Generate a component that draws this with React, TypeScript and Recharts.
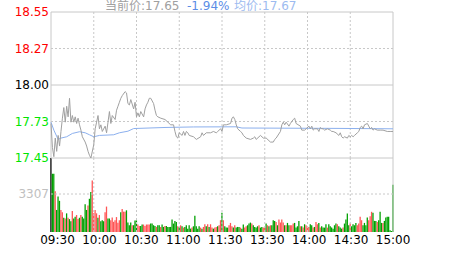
import React from 'react';
import { LineChart, Line, ComposedChart, Bar, Cell, XAxis, YAxis, ReferenceLine } from 'recharts';

const FONT = '"DejaVu Sans", "Noto Sans CJK SC", sans-serif';
const RED = '#ff0000';
const GREEN = '#00e600';
const GRID = '#c8c8c8';

// Header
const currentPrice = '17.65';
const changePct = '-1.94%';
const avgPrice = '17.67';

// Axis ticks / labels
const timeTicks = [0, 30, 60, 90, 120, 150, 180, 210, 240];
const timeLabels = ['09:30', '10:00', '10:30', '11:00', '11:30', '13:30', '14:00', '14:30', '15:00'];
const priceTicks = [17.45, 17.725, 18.0, 18.275, 18.55];
const priceLabels = ['17.45', '17.73', '18.00', '18.27', '18.55'];
const priceLabelColors = [GREEN, GREEN, '#000000', RED, RED];
const pctTicks = [-3.06, -1.53, 0, 1.53, 3.06];
const pctLabels = ['-3.06%', '-1.53%', '0.00%', '+1.53%', '+3.06%'];
const volTicks = [3307];
const volLabels = ['3307'];

// Price line (minute index from 09:30, price)
const priceMin = [0, 1, 2, 3, 4, 5, 6, 7, 8, 9, 10, 11, 12, 13, 14, 15, 16, 17, 18, 19, 20, 21, 22, 24, 25, 26, 27, 28, 30, 31, 32, 33, 34, 35, 36, 38, 39, 40, 41, 42, 43, 45, 46, 47, 48, 49, 50, 52, 53, 54, 55, 56, 58, 59, 60, 61, 62, 63, 65, 66, 67, 68, 69, 70, 72, 73, 74, 75, 77, 80, 82, 84, 86, 87, 88, 89, 90, 92, 93, 94, 95, 96, 97, 100, 102, 105, 106, 107, 109, 112, 114, 116, 117, 119, 120, 121, 123, 126, 127, 128, 129, 130, 131, 133, 134, 135, 137, 140, 142, 143, 144, 147, 149, 151, 154, 156, 157, 158, 161, 162, 163, 164, 165, 167, 168, 170, 171, 172, 175, 176, 178, 179, 181, 182, 183, 184, 185, 187, 188, 189, 190, 191, 192, 194, 196, 197, 198, 200, 202, 203, 204, 205, 206, 208, 209, 210, 211, 212, 213, 215, 216, 217, 218, 219, 220, 222, 223, 224, 225, 226, 227, 229, 231, 233, 236, 238, 240];
const priceVal = [17.71, 17.53, 17.46, 17.60, 17.50, 17.62, 17.54, 17.65, 17.75, 17.83, 17.72, 17.84, 17.76, 17.90, 17.72, 17.77, 17.72, 17.76, 17.71, 17.75, 17.70, 17.66, 17.61, 17.57, 17.54, 17.50, 17.47, 17.45, 17.55, 17.67, 17.72, 17.77, 17.67, 17.70, 17.65, 17.69, 17.64, 17.72, 17.80, 17.71, 17.77, 17.74, 17.81, 17.84, 17.87, 17.90, 17.92, 17.95, 17.94, 17.86, 17.85, 17.89, 17.82, 17.87, 17.76, 17.79, 17.76, 17.80, 17.76, 17.82, 17.85, 17.87, 17.90, 17.90, 17.86, 17.81, 17.77, 17.76, 17.75, 17.74, 17.72, 17.70, 17.70, 17.65, 17.61, 17.60, 17.64, 17.62, 17.65, 17.62, 17.65, 17.64, 17.62, 17.61, 17.59, 17.61, 17.64, 17.62, 17.64, 17.64, 17.65, 17.64, 17.65, 17.67, 17.65, 17.70, 17.70, 17.71, 17.75, 17.76, 17.74, 17.70, 17.67, 17.65, 17.64, 17.62, 17.60, 17.59, 17.60, 17.61, 17.59, 17.62, 17.60, 17.60, 17.57, 17.57, 17.59, 17.60, 17.65, 17.70, 17.72, 17.70, 17.72, 17.69, 17.71, 17.74, 17.75, 17.71, 17.69, 17.66, 17.66, 17.67, 17.69, 17.67, 17.69, 17.66, 17.67, 17.67, 17.65, 17.68, 17.67, 17.67, 17.66, 17.67, 17.66, 17.65, 17.65, 17.64, 17.62, 17.64, 17.61, 17.60, 17.61, 17.60, 17.62, 17.61, 17.62, 17.61, 17.62, 17.64, 17.65, 17.68, 17.69, 17.67, 17.70, 17.71, 17.69, 17.67, 17.68, 17.66, 17.67, 17.66, 17.66, 17.66, 17.65, 17.65, 17.65];

// Average price line
const avgMin = [0, 2, 5, 7, 11, 15, 20, 24, 27, 30, 34, 44, 48, 54, 58, 80, 100, 130, 134, 200, 240];
const avgVal = [17.72, 17.66, 17.59, 17.60, 17.61, 17.635, 17.648, 17.64, 17.625, 17.61, 17.62, 17.625, 17.64, 17.652, 17.672, 17.68, 17.684, 17.685, 17.676, 17.673, 17.67];

// Volume per minute (0..240)
const volume = [
  6440, 5074, 5074, 3540, 1918, 3098, 2714, 1918, 1711, 1239,
  1180, 1623, 1239, 1121, 944, 1829, 1180, 1328, 1475, 1121,
  1239, 1475, 1328, 1180, 2419, 1918, 2301, 2891, 3481, 4484,
  1623, 1918, 1623, 1239, 1475, 944, 1033, 944, 1711, 2213,
  1180, 1180, 1033, 1269, 885, 1033, 1298, 797, 1033, 1711,
  2006, 1770, 1770, 1888, 826, 590, 826, 590, 590, 1003,
  1003, 649, 531, 531, 649, 649, 531, 649, 649, 649,
  738, 738, 590, 531, 443, 590, 590, 443, 649, 443,
  531, 531, 443, 443, 443, 1084, 733, 967, 879, 498,
  440, 586, 498, 381, 440, 586, 293, 586, 293, 381,
  498, 1406, 498, 293, 498, 381, 293, 440, 674, 498,
  674, 440, 674, 381, 293, 381, 440, 498, 586, 1026,
  1670, 1026, 498, 381, 381, 586, 791, 498, 381, 586,
  381, 440, 440, 381, 293, 645, 381, 498, 586, 733,
  820, 733, 586, 440, 381, 498, 586, 381, 440, 381,
  381, 733, 586, 498, 586, 586, 1026, 967, 879, 586,
  1084, 820, 1084, 820, 586, 586, 791, 586, 586, 586,
  733, 791, 381, 498, 967, 498, 498, 381, 674, 586,
  498, 440, 674, 586, 381, 440, 879, 674, 791, 381,
  498, 381, 381, 674, 381, 674, 498, 381, 293, 586,
  733, 674, 498, 381, 293, 381, 733, 1084, 1612, 586,
  733, 498, 674, 586, 791, 586, 733, 1319, 1026, 586,
  791, 586, 1260, 1026, 1377, 1758, 1670, 967, 967, 879,
  1026, 1758, 791, 791, 967, 1260, 1319, 1319, 147, 88,
  4102,
];
// k = neutral, r = up, g = down
const volDir = (
  'kggrgggrrg' + 'rgrggrggrr' + 'grggggrggr' + 'rrrgrgggrr' + 'ggrrrrrrrg' +
  'rrrggggrgg' + 'grrggrrrrr' + 'ggggrggrgg' + 'rggggggggr' + 'grgrgggggr' +
  'gggggrgrrg' + 'rgrrgrrgrr' + 'grgggrrrgr' + 'gggrggrrgg' + 'grggggrggr' +
  'rgrgrgggrg' + 'rrrrgrggrr' + 'rggggrgrgr' + 'rrggrgrrgr' + 'ggggrggggg' +
  'grgggrgggg' + 'rggggrrrrg' + 'gggrrrgggr' + 'gggrgggggg' + 'g'
).split('');
const dirColor: Record<string, string> = { k: '#000000', r: '#ff5555', g: '#00a000' };

const priceMap = new Map(priceMin.map((m, i) => [m, priceVal[i]]));
const avgMap = new Map(avgMin.map((m, i) => [m, avgVal[i]]));
const rows = volume.map((v, m) => ({
  m,
  price: priceMap.has(m) ? priceMap.get(m) : null,
  avg: avgMap.has(m) ? avgMap.get(m) : null,
  vol: v,
  dir: volDir[m],
}));

const PriceTick = (props: any) => {
  const { x, y, payload } = props;
  const i = priceTicks.indexOf(payload.value);
  return (
    <text x={x} y={y} dy="0.36em" textAnchor="end" fill={priceLabelColors[i]} fontSize={12} fontFamily={FONT}>
      {priceLabels[i]}
    </text>
  );
};
const PctTick = (props: any) => {
  const { x, y, payload } = props;
  const i = pctTicks.indexOf(payload.value);
  return (
    <text x={x} y={y} dy="0.36em" textAnchor="start" fill={priceLabelColors[i]} fontSize={12} fontFamily={FONT}>
      {pctLabels[i]}
    </text>
  );
};
const VolTick = (props: any) => {
  const { x, y, payload } = props;
  const i = volTicks.indexOf(payload.value);
  return (
    <text x={x} y={y} dy="0.36em" textAnchor="end" fill="#c0c0c0" fontSize={12} fontFamily={FONT}>
      {volLabels[i]}
    </text>
  );
};
const TimeTick = (props: any) => {
  const { x, y, payload } = props;
  const i = timeTicks.indexOf(payload.value);
  return (
    <text x={x + 6.5 - 0.8 * i} y={y} dy={12} textAnchor="middle" fill="#000" fontSize={12} fontFamily={FONT}>
      {timeLabels[i]}
    </text>
  );
};

const innerGrid = [30, 60, 90, 120, 150, 180, 210];

export default function App() {
  return (
    <div style={{ position: 'absolute', left: 0, top: 0, width: 463, height: 255, background: '#fff', overflow: 'hidden' }}>
      <div style={{ position: 'absolute', left: 0, top: 158 }}>
        <ComposedChart width={463} height={97} data={rows} margin={{ top: 0, right: 70, bottom: 0, left: 0 }}>
          <XAxis dataKey="m" type="number" domain={[0, 240]} ticks={timeTicks} interval={0} height={23} axisLine={false} tickLine={false} tickSize={0} tickMargin={0} tick={<TimeTick />} />
          <YAxis yAxisId="v" domain={[0, 6440]} ticks={volTicks} interval={0} width={51} axisLine={false} tickLine={false} tickSize={0} tickMargin={2} tick={<VolTick />} />
          <ReferenceLine yAxisId="v" y={3307} stroke={GRID} strokeDasharray="2 2" />
          {innerGrid.map((t) => (
            <ReferenceLine key={t} yAxisId="v" x={t} stroke={GRID} strokeDasharray="2 2" />
          ))}
          <ReferenceLine yAxisId="v" x={240} stroke={GRID} />
          <Bar yAxisId="v" dataKey="vol" barSize={1.6} isAnimationActive={false}>
            {rows.map((r, i) => (
              <Cell key={i} fill={dirColor[r.dir]} />
            ))}
          </Bar>
        </ComposedChart>
      </div>
      <div style={{ position: 'absolute', left: 0, top: 0 }}>
        <LineChart width={463} height={172} data={rows} margin={{ top: 12, right: 0, bottom: 14, left: 0 }}>
          <XAxis dataKey="m" type="number" domain={[0, 240]} hide />
          <YAxis yAxisId="p" domain={[17.45, 18.55]} ticks={priceTicks} interval={0} width={51} axisLine={false} tickLine={false} tickSize={0} tickMargin={2} tick={<PriceTick />} />
          <YAxis yAxisId="pct" orientation="right" domain={[-3.06, 3.06]} ticks={pctTicks} interval={0} width={70} axisLine={false} tickLine={false} tickSize={0} tickMargin={3} tick={<PctTick />} />
          <ReferenceLine yAxisId="p" y={18.275} stroke={GRID} strokeDasharray="2 2" />
          <ReferenceLine yAxisId="p" y={17.725} stroke={GRID} strokeDasharray="2 2" />
          {innerGrid.map((t) => (
            <ReferenceLine key={t} yAxisId="p" x={t} stroke={GRID} strokeDasharray="2 2" />
          ))}
          <ReferenceLine yAxisId="p" y={18.55} stroke={GRID} />
          <ReferenceLine yAxisId="p" y={18.0} stroke={GRID} />
          <ReferenceLine yAxisId="p" y={17.45} stroke={GRID} />
          <ReferenceLine yAxisId="p" x={0} stroke={GRID} />
          <ReferenceLine yAxisId="p" x={240} stroke={GRID} />
          <Line yAxisId="p" type="linear" dataKey="avg" stroke="#8cb0ee" strokeWidth={1} dot={false} connectNulls isAnimationActive={false} />
          <Line yAxisId="p" type="linear" dataKey="price" stroke="#a0a0a0" strokeWidth={1} dot={false} connectNulls isAnimationActive={false} />
        </LineChart>
      </div>
      <svg width={463} height={16} style={{ position: 'absolute', left: 0, top: 0, pointerEvents: 'none' }}>
        <text x={105} y={10} fontSize={12} fontFamily={FONT} fill="#a0a0a0">{'当前价:' + currentPrice}</text>
        <text x={187} y={10} fontSize={12} fontFamily={FONT} fill="#5b8de6">{changePct}</text>
        <text x={234} y={10} fontSize={12} fontFamily={FONT} fill="#9dbbf0">{'均价:' + avgPrice}</text>
      </svg>
    </div>
  );
}
